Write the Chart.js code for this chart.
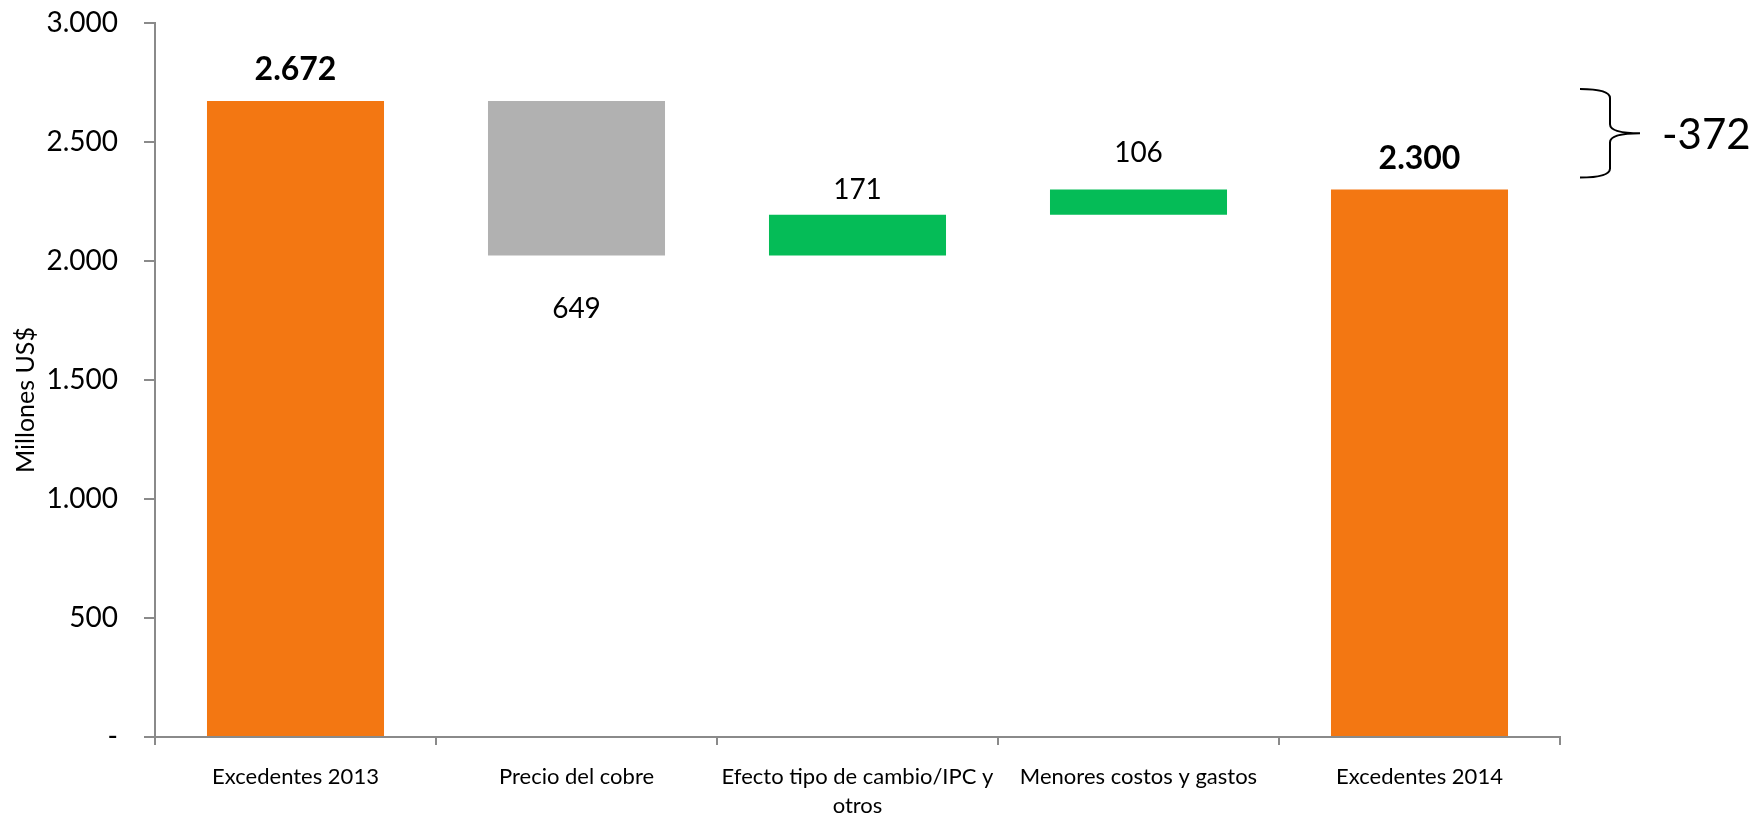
<!DOCTYPE html>
<html>
<head>
<meta charset="utf-8">
<script src="https://cdn.jsdelivr.net/npm/chart.js@4"></script>
<style>
  html, body { margin: 0; padding: 0; background: #ffffff; }
  #wrap { width: 1760px; height: 820px; }
</style>
</head>
<body>
<div id="wrap"><canvas id="c" width="1760" height="820"></canvas></div>
<script>
// ---- data ----
const categories = ['Excedentes 2013', 'Precio del cobre', ['Efecto tipo de cambio/IPC y', 'otros'], 'Menores costos y gastos', 'Excedentes 2014'];
const changes = [2672, -649, 171, 106, 2300];
const kinds = ['total', 'decrease', 'increase', 'increase', 'total'];
const yTickValues = [0, 500, 1000, 1500, 2000, 2500, 3000];
const bracketFrom = 2672;
const bracketTo = 2300;
const bracketLabel = '-372';
const yTitle = 'Millones US$';

// ---- derived floating ranges ----
const ranges = [];
let running = 0;
changes.forEach((v, i) => {
  if (kinds[i] === 'total') { ranges.push([0, v]); running = v; }
  else { ranges.push([running, running + v]); running += v; }
});
const palette = { total: '#F37712', decrease: '#B1B1B1', increase: '#05BC57' };
const colors = kinds.map(k => palette[k]);

function fmt(n) {
  return String(Math.abs(n)).replace(/\B(?=(\d{3})+(?!\d))/g, '.');
}

const FONT = 'Lato, "Open Sans", sans-serif';
const AXIS = '#8a8a8a';

const labelsPlugin = {
  id: 'wfLabels',
  afterDatasetsDraw(chart) {
    const ctx = chart.ctx;
    const meta = chart.getDatasetMeta(0);
    const ys = chart.scales.y;
    ctx.save();
    ctx.fillStyle = '#000';
    ctx.textAlign = 'center';
    ctx.textBaseline = 'middle';
    meta.data.forEach((bar, i) => {
      const r = ranges[i];
      const topY = ys.getPixelForValue(Math.max(r[0], r[1]));
      const botY = ys.getPixelForValue(Math.min(r[0], r[1]));
      if (kinds[i] === 'total') {
        ctx.font = 'bold 32px ' + FONT;
        ctx.fillText(fmt(changes[i]), bar.x, topY - 31);
      } else if (kinds[i] === 'decrease') {
        ctx.font = '28px ' + FONT;
        ctx.fillText(fmt(changes[i]), bar.x, botY + 53);
      } else {
        ctx.font = '28px ' + FONT;
        ctx.fillText(fmt(changes[i]), bar.x, topY - (i === 3 ? 37 : 25));
      }
    });
    // bracket
    const area = chart.chartArea;
    const yTop = ys.getPixelForValue(bracketFrom) - 12;
    const yBot = ys.getPixelForValue(bracketTo) - 12;
    const mid = (yTop + yBot) / 2;
    const x0 = area.right + 20, x1 = x0 + 30, x2 = x1 + 30, rr = 9;
    ctx.strokeStyle = '#000';
    ctx.lineWidth = 2;
    ctx.beginPath();
    ctx.moveTo(x0, yTop);
    ctx.quadraticCurveTo(x1, yTop, x1, yTop + rr);
    ctx.lineTo(x1, mid - rr);
    ctx.quadraticCurveTo(x1, mid, x2, mid);
    ctx.moveTo(x2, mid);
    ctx.quadraticCurveTo(x1, mid, x1, mid + rr);
    ctx.lineTo(x1, yBot - rr);
    ctx.quadraticCurveTo(x1, yBot, x0, yBot);
    ctx.stroke();
    ctx.font = '42px ' + FONT;
    ctx.textAlign = 'left';
    ctx.fillText(bracketLabel, x2 + 22, mid + 2);
    // y title
    ctx.translate(26, (area.top + area.bottom) / 2 + 20);
    ctx.rotate(-Math.PI / 2);
    ctx.textAlign = 'center';
    ctx.font = '25px ' + FONT;
    ctx.fillText(yTitle, 0, 0);
    ctx.restore();
  }
};

new Chart(document.getElementById('c'), {
  type: 'bar',
  data: {
    labels: categories,
    datasets: [{
      data: ranges,
      backgroundColor: colors,
      borderWidth: 0,
      barPercentage: 0.63,
      categoryPercentage: 1.0
    }]
  },
  options: {
    responsive: false,
    animation: false,
    devicePixelRatio: 1,
    layout: { padding: { top: 23, right: 200, left: 0, bottom: 0 } },
    plugins: { legend: { display: false }, tooltip: { enabled: false } },
    scales: {
      x: {
        grid: { drawOnChartArea: false, tickLength: 8, color: AXIS, lineWidth: 2, offset: true },
        border: { color: AXIS, width: 2 },
        ticks: { color: '#000', font: { family: FONT, size: 22, lineHeight: 1.3 }, padding: 18, maxRotation: 0, autoSkip: false },
        afterFit(s) { s.height = 83; s.paddingLeft = 0; s.paddingRight = 0; }
      },
      y: {
        min: 0, max: 3000,
        afterBuildTicks(s) { s.ticks = yTickValues.map(v => ({ value: v })); },
        grid: { drawOnChartArea: false, tickLength: 11, color: AXIS, lineWidth: 2 },
        border: { color: AXIS, width: 2 },
        ticks: {
          color: '#000', font: { family: FONT, size: 28 }, padding: 26,
          callback: v => v === 0 ? '-' : fmt(v)
        },
        afterFit(s) { s.width = 155; s.paddingTop = 0; s.paddingBottom = 0; }
      }
    }
  },
  plugins: [labelsPlugin]
});
</script>
</body>
</html>
